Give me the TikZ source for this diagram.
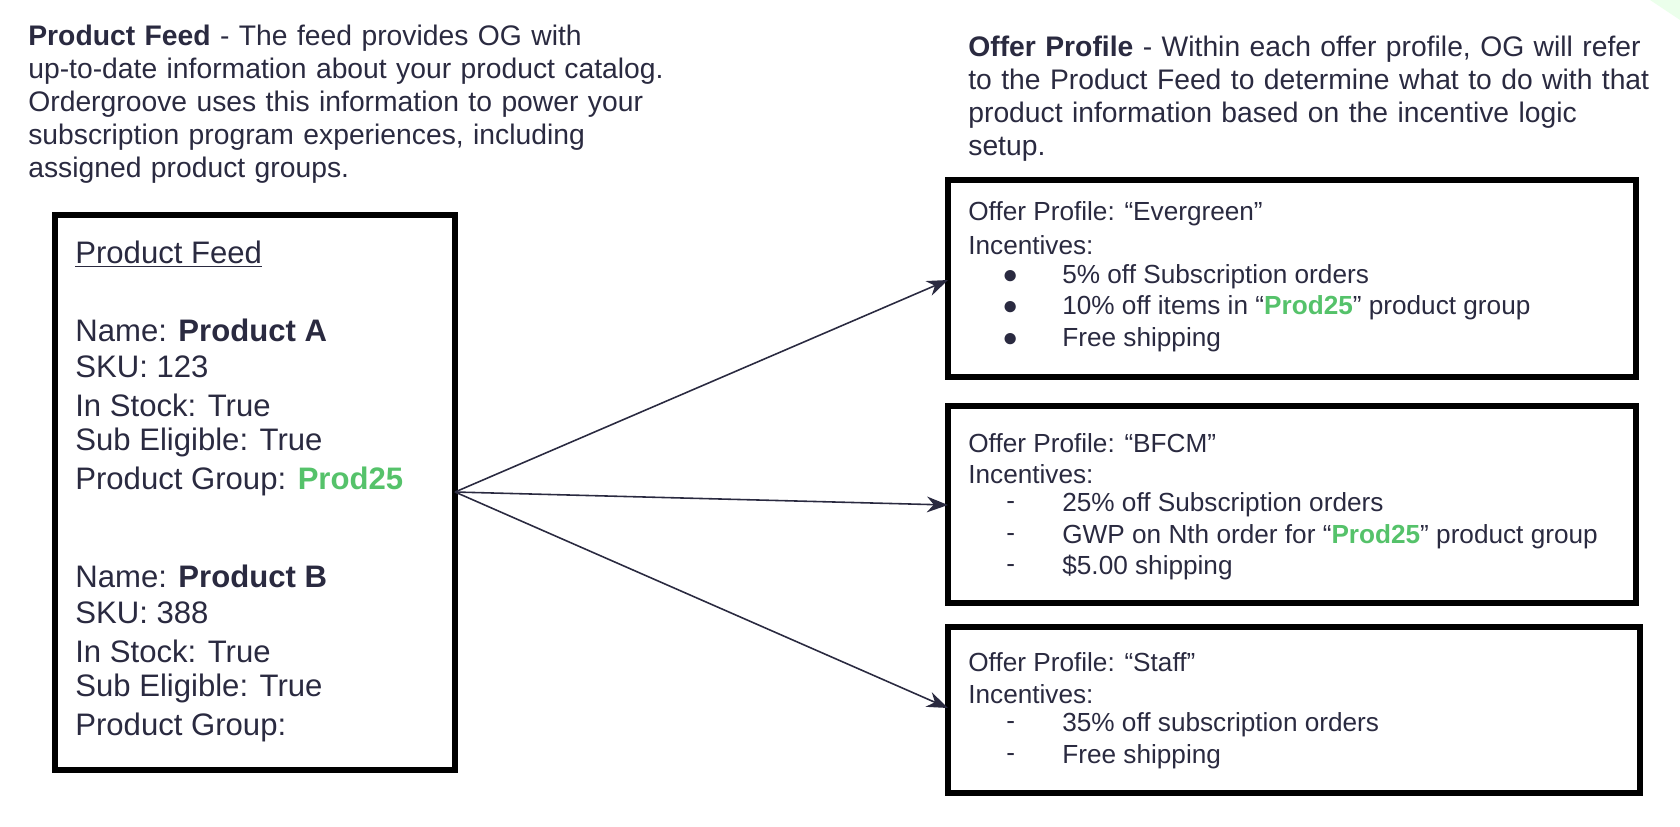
\documentclass[tikz,border=0pt]{standalone}
\usepackage{fontspec}
\setmainfont{Liberation Sans}
\usetikzlibrary{arrows.meta}
\definecolor{ink}{HTML}{2A2A40}
\definecolor{grn}{HTML}{55C26A}
\begin{document}
\begin{tikzpicture}[x=0.02cm,y=-0.02cm,
  t/.style={anchor=west,inner sep=0pt,text=ink},
  big/.style={t,font=\fontsize{17.7}{20}\selectfont},
  mid/.style={t,font=\fontsize{16.1}{18.8}\selectfont,align=left,text width=720*0.02cm},
  sm/.style={t,font=\fontsize{14.9}{17}\selectfont},
  box/.style={draw=black,line width=3.6pt},
  arr/.style={draw=ink,line width=0.9pt,-{Stealth[length=12pt,width=9pt]}}]
\useasboundingbox (0,0) rectangle (1680,826);
\fill[green!8] (1650,0) -- (1680,0) -- (1680,20) -- cycle;
% top texts
\node[mid,anchor=north west] (d1) at (28,25) {\textbf{Product Feed} - The feed provides OG with\\up-to-date information about your product catalog.\\Ordergroove uses this information to power your\\subscription program experiences, including\\assigned product groups.};
\node[mid,anchor=north west] (d2) at (968,36) {\textbf{Offer Profile} - Within each offer profile, OG will refer\\to the Product Feed to determine what to do with that\\product information based on the incentive logic\\setup.};
% boxes
\draw[box] (55,215) rectangle (455,770);
\coordinate (L) at (455,492);
\draw[box] (948,180) rectangle (1636,377);
\draw[box] (948,406) rectangle (1636,603);
\draw[box] (948,627) rectangle (1640,793);
\coordinate (R1) at (948,280);
\coordinate (R2) at (948,505);
\coordinate (R3) at (948,708);
\draw[arr] (L) -- (R1);
\draw[arr] (L) -- (R2);
\draw[arr] (L) -- (R3);
% left box text
\node[big] (a0) at (75,254) {\underline{Product Feed}};
\node[big] (a1) at (75,330) {Name: \textbf{Product A}};
\node[big] (a2) at (75,367) {SKU: 123};
\node[big] (a3) at (75,405) {In Stock: True};
\node[big] (a4) at (75,442) {Sub Eligible: True};
\node[big] (a5) at (75,481) {Product Group: \textcolor{grn}{\textbf{Prod25}}};
\node[big] (b1) at (75,576) {Name: \textbf{Product B}};
\node[big] (b2) at (75,613) {SKU: 388};
\node[big] (b3) at (75,651) {In Stock: True};
\node[big] (b4) at (75,688) {Sub Eligible: True};
\node[big] (b5) at (75,727) {Product Group:};
% box 1
\node[sm] (e0) at (968,214) {Offer Profile: “Evergreen”};
\node[sm] (e1) at (968,245) {Incentives:};
\node[sm] (eb1) at (1002,277) {●};
\node[sm] (eb2) at (1002,308) {●};
\node[sm] (eb3) at (1002,340) {●};
\node[sm] (e2) at (1062,277) {5\% off Subscription orders};
\node[sm] (e3) at (1062,308) {10\% off items in “\textcolor{grn}{\textbf{Prod25}}” product group};
\node[sm] (e4) at (1062,340) {Free shipping};
% box 2
\node[sm] (f0) at (968,443) {Offer Profile: “BFCM”};
\node[sm] (f1) at (968,474) {Incentives:};
\node[sm] (fb1) at (1006,505) {-};
\node[sm] (fb2) at (1006,537) {-};
\node[sm] (fb3) at (1006,568) {-};
\node[sm] (f2) at (1062,505) {25\% off Subscription orders};
\node[sm] (f3) at (1062,537) {GWP on Nth order for “\textcolor{grn}{\textbf{Prod25}}” product group};
\node[sm] (f4) at (1062,568) {\$5.00 shipping};
% box 3
\node[sm] (g0) at (968,662) {Offer Profile: “Staff”};
\node[sm] (g1) at (968,694) {Incentives:};
\node[sm] (gb1) at (1006,725) {-};
\node[sm] (gb2) at (1006,757) {-};
\node[sm] (g2) at (1062,725) {35\% off subscription orders};
\node[sm] (g3) at (1062,757) {Free shipping};
\end{tikzpicture}
\end{document}
